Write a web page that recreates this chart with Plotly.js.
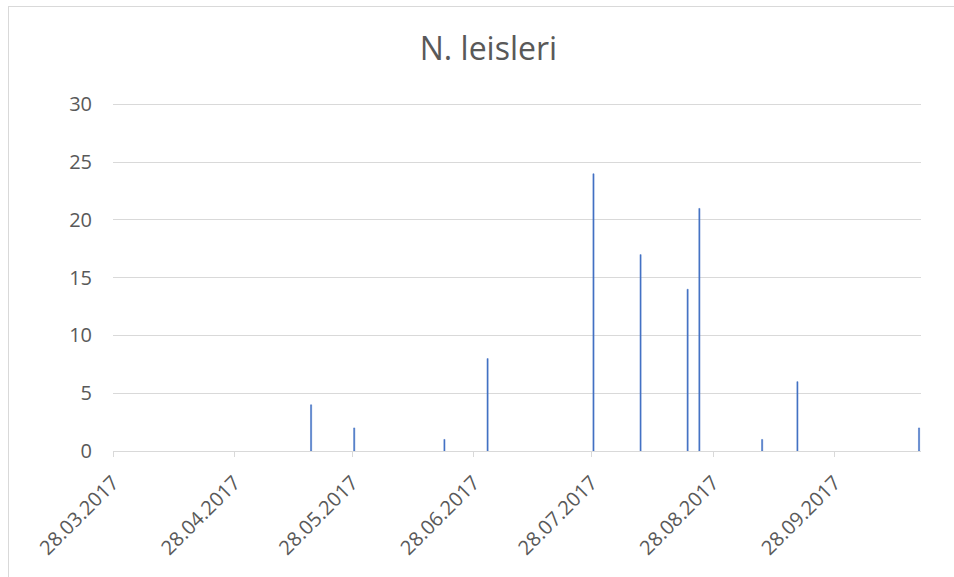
<!DOCTYPE html>
<html>
<head>
<meta charset="utf-8">
<script src="https://cdn.plot.ly/plotly-3.0.1.min.js"></script>
<style>
html, body { margin: 0; padding: 0; background: #fff; overflow: hidden; }
#chart { position: absolute; left: 0; top: 0; width: 954px; height: 577px; }
#frame { position: absolute; left: 8px; top: 6px; width: 1000px; height: 700px; border: 1px solid #D9D9D9; pointer-events: none; }
</style>
</head>
<body>
<div id="chart"></div>
<div id="frame"></div>
<script>
// Data
const dates = ["2017-05-17", "2017-05-28", "2017-06-20", "2017-07-01", "2017-07-28",
               "2017-08-09", "2017-08-21", "2017-08-24", "2017-09-09", "2017-09-18", "2017-10-19"];
const counts = [4, 2, 1, 8, 24, 17, 14, 21, 1, 6, 2];
const tickDates = ["2017-03-28", "2017-04-28", "2017-05-28", "2017-06-28", "2017-07-28", "2017-08-28", "2017-09-28"];
const tickLabels = ["28.03.2017", "28.04.2017", "28.05.2017", "28.06.2017", "28.07.2017", "28.08.2017", "28.09.2017"];
const yTicks = [0, 5, 10, 15, 20, 25, 30];
const chartTitle = "N. leisleri";

const DAY = 86400000;
const trace = {
  type: "bar",
  x: dates.map(d => d + " 12:00"),
  y: counts,
  width: dates.map(() => 0.3 * DAY),
  marker: { color: "#4472C4", line: { color: "#4472C4", width: 0.5 } },
  hoverinfo: "x+y"
};

const layout = {
  width: 954,
  height: 577,
  margin: { l: 113, r: 33, t: 101, b: 126 },
  paper_bgcolor: "#ffffff",
  plot_bgcolor: "#ffffff",
  font: { family: "Open Sans, sans-serif", color: "#595959", size: 20 },
  title: {
    text: chartTitle,
    font: { family: "Open Sans, sans-serif", size: 32, color: "#595959" },
    x: 0.512, xanchor: "center",
    y: 0.915, yanchor: "middle"
  },
  showlegend: false,
  bargap: 0,
  xaxis: {
    type: "date",
    range: ["2017-03-28", "2017-10-20"],
    tickmode: "array",
    tickvals: tickDates,
    ticktext: tickLabels,
    tickangle: -45,
    ticks: "outside",
    ticklen: 5,
    tickwidth: 1,
    tickcolor: "#D9D9D9",
    showgrid: false,
    showline: true,
    linecolor: "#D9D9D9",
    linewidth: 1,
    zeroline: false,
    ticklabelstandoff: 6,
    tickfont: { size: 20, color: "#595959" }
  },
  yaxis: {
    range: [0, 30.3],
    tickmode: "array",
    tickvals: yTicks,
    showgrid: true,
    gridcolor: "#D9D9D9",
    gridwidth: 1,
    zeroline: false,
    showline: false,
    ticks: "",
    ticklabelstandoff: 20,
    tickfont: { size: 20, color: "#595959" }
  }
};

Plotly.newPlot("chart", [trace], layout, { staticPlot: true, displayModeBar: false });
</script>
</body>
</html>
